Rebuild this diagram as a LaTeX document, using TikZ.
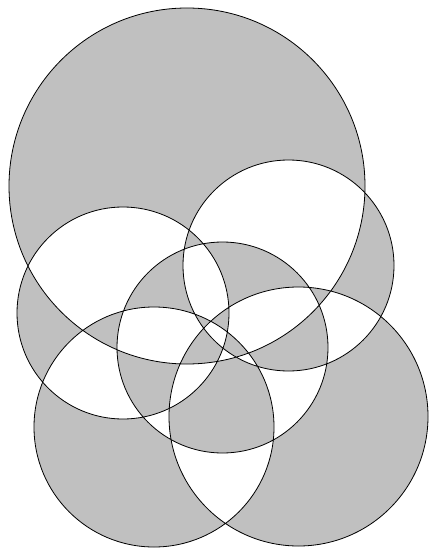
\documentclass[tikz,border=0pt]{standalone}
\definecolor{fillgray}{RGB}{192,192,192}
\begin{document}
\begin{tikzpicture}[x=1pt,y=-1pt,
  rings/.style={fill=fillgray,even odd rule,draw=black,line width=0.8pt}]
\useasboundingbox (0,0) rectangle (429,548);
\path[rings]
  (187,186) circle[radius=178]
  (123,313) circle[radius=106]
  (288.5,265.5) circle[radius=105.5]
  (222.5,347.5) circle[radius=105.5]
  (154,427) circle[radius=120]
  (298.5,416.5) circle[radius=129.5];
\end{tikzpicture}
\end{document}
